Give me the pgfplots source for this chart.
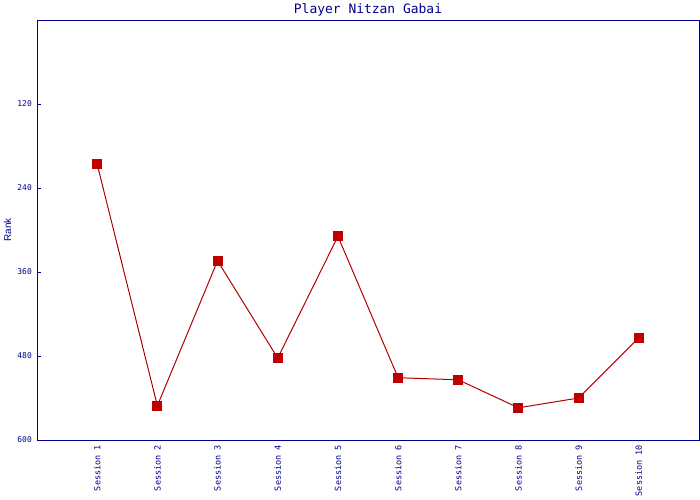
\documentclass[border=0pt]{standalone}
\usepackage{fontspec}
\setmainfont{DejaVu Sans Mono}
\newfontfamily\ranksans{Liberation Sans}
\usepackage{pgfplots}
\pgfplotsset{compat=1.18}
\definecolor{navy}{RGB}{0,0,140}
\definecolor{ptred}{RGB}{192,0,0}
\definecolor{lnred}{RGB}{176,0,0}
\begin{document}
\begin{tikzpicture}
\useasboundingbox (-37bp,-60bp) rectangle (663bp,440bp);
\begin{axis}[
  at={(0,0)}, anchor=south west,
  scale only axis, width=662bp, height=420bp,
  xmin=0, xmax=11, ymin=0, ymax=600, y dir=reverse,
  axis line style={navy, line width=0.8pt},
  xtick={1,...,10},
  xticklabels={Session 1,Session 2,Session 3,Session 4,Session 5,Session 6,Session 7,Session 8,Session 9,Session 10},
  x tick label style={rotate=90, anchor=east, font=\fontsize{8.5}{8.5}\selectfont, text=navy, inner sep=0pt, xshift=-5bp},
  major x tick style={draw=none},
  ytick={120,240,360,480,600},
  ytick pos=left,
  y tick label style={font=\fontsize{8}{8}\selectfont, text=navy, inner sep=0pt, xshift=-5bp},
  major y tick style={navy, line width=0.8pt},
  tick align=inside, major tick length=4bp,
  yticklabel style={/pgf/number format/assume math mode=true},
  title={Player Nitzan Gabai},
  title style={at={(0.5,1)}, anchor=base, yshift=1bp, font=\fontsize{13}{13}\selectfont, text=navy},
  ylabel={Rank},
  ylabel style={at={(rel axis cs:0,0.5)}, anchor=center, yshift=29.5bp, font=\ranksans\fontsize{10}{10}\selectfont, text=navy},
  clip=false,
]
\addplot[lnred, line width=1pt, mark=square*, mark size=4.5bp, mark options={fill=ptred, draw=ptred, line width=0pt}]
coordinates {(1,206) (2,551) (3,344) (4,483) (5,309) (6,511) (7,514) (8,554) (9,540) (10,454)};
\end{axis}
\end{tikzpicture}
\end{document}
